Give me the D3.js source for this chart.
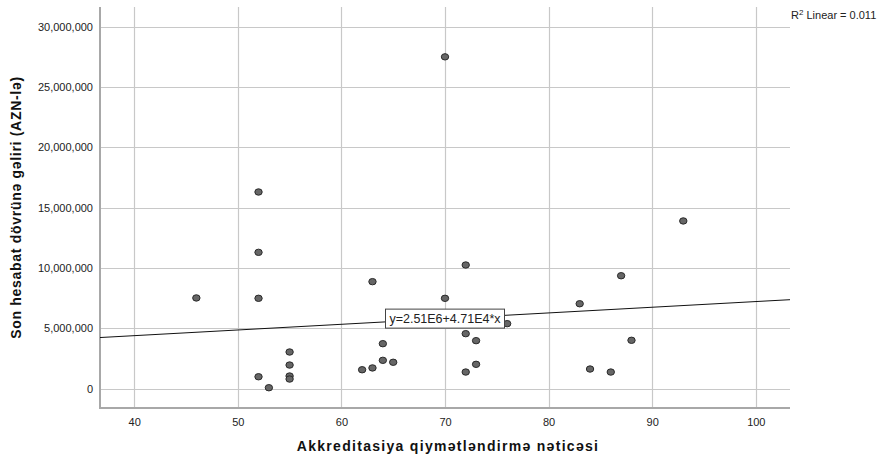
<!DOCTYPE html>
<html>
<head>
<meta charset="utf-8">
<script src="https://cdn.jsdelivr.net/npm/d3@7"></script>
<style>
  body { margin: 0; background: #fff; }
  svg { display: block; font-family: "Liberation Sans", Arial, sans-serif; }
</style>
</head>
<body>
<svg id="chart" width="886" height="456"></svg>
<script>
// accreditation score vs last period income
const scores = [46, 52, 52, 52, 52, 53, 55, 55, 55, 55,
                62, 63, 63, 64, 64, 65, 70, 70, 72, 72,
                72, 73, 73, 76, 83, 84, 86, 87, 88, 93];
const incomes = [7.52e6, 16.3e6, 11.3e6, 7.49e6, 0.99e6, 0.08e6, 3.04e6, 1.96e6, 1.05e6, 0.80e6,
                 1.57e6, 8.87e6, 1.72e6, 3.73e6, 2.35e6, 2.19e6, 27.5e6, 7.49e6, 10.25e6, 4.56e6,
                 1.38e6, 3.98e6, 2.02e6, 5.39e6, 7.04e6, 1.63e6, 1.38e6, 9.36e6, 4.01e6, 13.9e6];
const xTicks = [40, 50, 60, 70, 80, 90, 100];
const yTicks = [0, 5e6, 10e6, 15e6, 20e6, 25e6, 30e6];
const fitIntercept = 2.51e6;
const fitSlope = 4.71e4;
const fitLabel = "y=2.51E6+4.71E4*x";
const r2Value = "0.011";

const svg = d3.select("#chart");
const pLeft = 100, pRight = 790, pTop = 7, pBottom = 408;

const x = d3.scaleLinear().domain([36.7, 103.3]).range([pLeft, pRight]);
const y = d3.scaleLinear().domain([-1.6e6, 31.63e6]).range([pBottom, pTop]);

// grid
svg.append("g").selectAll("line").data(yTicks).join("line")
    .attr("x1", pLeft).attr("x2", pRight)
    .attr("y1", d => Math.round(y(d)) + 0.5).attr("y2", d => Math.round(y(d)) + 0.5)
    .attr("stroke", "#c8c8c8").attr("stroke-width", 1.2);
svg.append("g").selectAll("line").data(xTicks).join("line")
    .attr("x1", d => Math.round(x(d)) + 0.5).attr("x2", d => Math.round(x(d)) + 0.5)
    .attr("y1", pTop).attr("y2", pBottom)
    .attr("stroke", "#c8c8c8").attr("stroke-width", 1.2);

// axes
const xAxis = svg.append("g").attr("transform", `translate(0,${pBottom})`)
    .call(d3.axisBottom(x).tickValues(xTicks).tickSize(0).tickPadding(10).tickFormat(d3.format("d")));
const yAxis = svg.append("g").attr("transform", `translate(${pLeft},0)`)
    .call(d3.axisLeft(y).tickValues(yTicks).tickSize(0).tickPadding(7).tickFormat(d3.format(",")));
[xAxis, yAxis].forEach(a => {
    a.select(".domain").remove();
    a.selectAll("text").attr("font-size", 11).attr("fill", "#222")
        .attr("font-family", "'Liberation Sans', Arial, sans-serif");
});
svg.append("line").attr("x1", pLeft).attr("x2", pLeft).attr("y1", pTop).attr("y2", pBottom + 1)
    .attr("stroke", "#a8a8a8").attr("stroke-width", 2);
svg.append("line").attr("x1", pLeft).attr("x2", pRight).attr("y1", pBottom).attr("y2", pBottom)
    .attr("stroke", "#a8a8a8").attr("stroke-width", 2);

// fit line
const xd = x.domain();
svg.append("line")
    .attr("x1", x(xd[0])).attr("y1", y(fitIntercept + fitSlope * xd[0]))
    .attr("x2", x(xd[1])).attr("y2", y(fitIntercept + fitSlope * xd[1]))
    .attr("stroke", "#111").attr("stroke-width", 1);

// points
svg.append("g").selectAll("ellipse").data(scores).join("ellipse")
    .attr("cx", (d, i) => x(d)).attr("cy", (d, i) => y(incomes[i]))
    .attr("rx", 3.7).attr("ry", 3.2)
    .attr("fill", "#666").attr("stroke", "#2a2a2a").attr("stroke-width", 1);

// fit label box
const lx = 70, ly = fitIntercept + fitSlope * 70;
const lab = svg.append("g").attr("transform", `translate(${x(lx)},${y(ly)})`);
lab.append("rect").attr("x", -59.5).attr("y", -9.5).attr("width", 119).attr("height", 19)
    .attr("fill", "#fff").attr("stroke", "#444").attr("stroke-width", 1);
lab.append("text").attr("text-anchor", "middle").attr("y", 4.5)
    .attr("font-size", 12.5).attr("fill", "#222").text(fitLabel);

// R2 label
const r2 = svg.append("text").attr("x", 791).attr("y", 19).attr("font-size", 11).attr("fill", "#222");
r2.append("tspan").text("R");
r2.append("tspan").attr("font-size", 8).attr("dy", -4).text("2");
r2.append("tspan").attr("dy", 4).text(" Linear = " + r2Value);

// axis titles
svg.append("text").attr("x", 448).attr("y", 451).attr("text-anchor", "middle")
    .attr("font-size", 14).attr("font-weight", "bold").attr("fill", "#111")
    .attr("letter-spacing", 1.3)
    .text("Akkreditasiya qiymətləndirmə nəticəsi");
svg.append("text").attr("transform", `translate(21,${(pTop + pBottom) / 2}) rotate(-90)`)
    .attr("text-anchor", "middle")
    .attr("font-size", 14).attr("font-weight", "bold").attr("fill", "#111")
    .attr("letter-spacing", 0.7)
    .text("Son hesabat dövrünə gəliri (AZN-lə)");
</script>
</body>
</html>
